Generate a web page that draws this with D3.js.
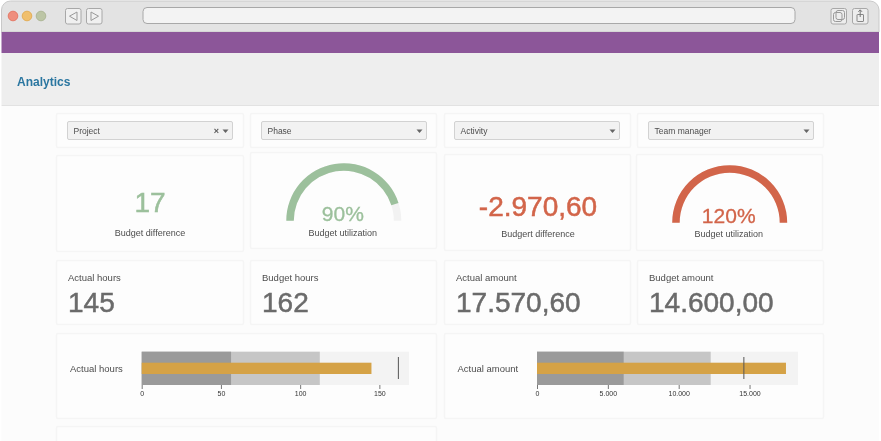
<!DOCTYPE html>
<html>
<head>
<meta charset="utf-8">
<title>Analytics</title>
<script src="https://cdn.jsdelivr.net/npm/d3@7"></script>
<style>
  html, body { margin: 0; padding: 0; background: #fff; overflow: hidden; }
  svg { display: block; font-family: "Liberation Sans", Arial, sans-serif; filter: blur(0.35px); }
</style>
</head>
<body>
<div id="chart"></div>
<script>
// values
const filterNames = ['Project', 'Phase', 'Activity', 'Team manager'];
const kpiLabels = ['Actual hours', 'Budget hours', 'Actual amount', 'Budget amount'];
const kpiValues = [145, 162, 17570.6, 14600];
const hoursRanges = [56.4, 112.4, 168.7];
const amountRanges = [6117, 12260, 18420];
const hoursTicks = [0, 50, 100, 150];
const amountTicks = [0, 5000, 10000, 15000];

const locale = d3.formatLocale({ decimal: ',', thousands: '.', grouping: [3], currency: ['', ''], minus: '-' });
const fmtInt = locale.format('d');
const fmtAmount = locale.format(',.2f');
const fmtTick = locale.format(',d');

const green = '#9cc09c', red = '#d2654a', grey = '#6b6b6b', label = '#4d4d4d';

const svg = d3.select('#chart').append('svg').attr('width', 881).attr('height', 441);

function box(g, x0, y0, x1, y1, fill, stroke, r) {
  return g.append('rect')
    .attr('x', x0).attr('y', y0)
    .attr('width', x1 - x0).attr('height', y1 - y0)
    .attr('rx', r || 0)
    .attr('fill', fill).attr('stroke', stroke || 'none');
}

function txt(g, x, y, str, size, color, anchor, weight) {
  return g.append('text')
    .attr('x', x).attr('y', y)
    .attr('font-size', size)
    .attr('fill', color)
    .attr('text-anchor', anchor || 'start')
    .attr('font-weight', weight || 400)
    .text(str);
}

// big numbers are a bit heavier than the regular face
const heavy = (sel, color) => sel.attr('stroke', color).attr('stroke-width', 0.5);

//Browser window
const win = svg.append('g');
win.append('path').attr('fill', '#e3e3e3').attr('stroke', '#c9c9c9')
  .attr('d', 'M1.5,32 V10 a9,9 0 0 1 9,-9 H870 a9,9 0 0 1 9,9 V32 Z');
[['#ef8e7d', '#e57a68', 13], ['#f0bf6c', '#e3ae57', 27], ['#bcc5a5', '#aeb796', 41]].forEach(([c, s, x]) => {
  win.append('circle').attr('cx', x).attr('cy', 16).attr('r', 4.8).attr('fill', c).attr('stroke', s);
});
box(win, 65.5, 8.5, 81, 24, '#f0f0f0', '#a8a8a8', 2);
box(win, 86.5, 8.5, 102, 24, '#f0f0f0', '#a8a8a8', 2);
win.append('path').attr('d', 'M77,12 L69.5,16.2 L77,20.5 Z').attr('fill', 'none').attr('stroke', '#999');
win.append('path').attr('d', 'M91,12 L98.5,16.2 L91,20.5 Z').attr('fill', 'none').attr('stroke', '#999');
box(win, 143, 7.5, 795, 23.5, '#f3f3f3', '#a8a8a8', 4);
box(win, 831, 8.5, 846.5, 24, '#ededed', '#a8a8a8', 2);
box(win, 852.5, 8.5, 868, 24, '#ededed', '#a8a8a8', 2);
box(win, 833.5, 12.5, 842, 21.5, 'none', '#999', 2);
box(win, 836, 10.5, 844.5, 19.5, 'none', '#999', 2);
box(win, 857, 14.5, 863.5, 21.5, 'none', '#888', 0.5);
win.append('path').attr('d', 'M860.2,10 V17 M858.4,11.8 L860.2,9.8 L862,11.8').attr('fill', 'none').attr('stroke', '#777');

//Page background and header
box(svg, 1.5, 32, 879, 53, '#8c5699');
box(svg, 1.5, 53, 879, 105, '#eeeeee');
box(svg, 1.5, 105, 879, 106, '#e2e2e2');
box(svg, 1.5, 106, 879, 441, '#fcfcfc');
txt(svg, 17, 86, 'Analytics', 12, '#2a76a0', 'start', 700);

const card = (x0, y0, x1, y1) => box(svg, x0 + 0.5, y0 + 0.5, x1 - 0.5, y1 - 0.5, '#fdfdfd', '#f5f5f5', 1.5).attr('stroke-width', 1.4);

//Filter row
const filterCards = [[56, 244], [250, 437], [444, 631], [637, 824]];
const selects = [[67.5, 232.5], [261.5, 426.5], [454.5, 619.5], [648.5, 813.5]];
filterNames.forEach((name, i) => {
  card(filterCards[i][0], 113, filterCards[i][1], 148);
  box(svg, selects[i][0], 121.5, selects[i][1], 139.5, '#f2f2f2', '#d2d2d2', 1.5);
  txt(svg, selects[i][0] + 6, 134, name, 8.5, '#4d4d4d');
  const ax = selects[i][1] - 7;
  svg.append('path').attr('d', `M${ax - 3},129.5 H${ax + 3} L${ax},133 Z`).attr('fill', '#666');
});
txt(svg, 216.5, 133.5, '×', 9, '#555', 'middle', 700);

//Number tiles
card(56, 155, 244, 252);
heavy(txt(svg, 150, 212, fmtInt(kpiValues[1] - kpiValues[0]), 28, green, 'middle'), green);
txt(svg, 150, 236, 'Budget difference', 9, label, 'middle');

card(444, 154, 631, 251);
heavy(txt(svg, 538, 216, fmtAmount(kpiValues[3] - kpiValues[2]), 28, red, 'middle'), red);
txt(svg, 538, 237, 'Budgert difference', 9, label, 'middle');

//Gauges
function gauge(cx, cy, pct, color, labelY) {
  const scale = d3.scaleLinear().domain([0, 100]).range([-Math.PI / 2, Math.PI / 2]).clamp(true);
  const arc = d3.arc().innerRadius(50).outerRadius(57.5);
  const g = svg.append('g').attr('transform', `translate(${cx},${cy})`);
  g.append('path').attr('fill', '#f2f2f2').attr('d', arc({ startAngle: scale(0), endAngle: scale(100) }));
  g.append('path').attr('fill', color).attr('d', arc({ startAngle: scale(0), endAngle: scale(pct) }));
  heavy(txt(g, -1, 0.5, pct + '%', 21, color, 'middle'), color).attr('stroke-width', 0.3);
  txt(svg, cx - 1, labelY, 'Budget utilization', 9, label, 'middle');
}
card(250, 152, 437, 249);
gauge(343.8, 220.7, Math.round(kpiValues[0] / kpiValues[1] * 100), green, 236);
card(636, 154, 823, 251);
gauge(729.7, 222.7, Math.round(kpiValues[2] / kpiValues[3] * 100), red, 237);

//KPI tiles
const kpiCards = [[56, 244], [250, 437], [444, 631], [637, 824]];
const kpiX = [68, 262, 456, 649];
kpiLabels.forEach((name, i) => {
  card(kpiCards[i][0], 260, kpiCards[i][1], 325);
  txt(svg, kpiX[i], 280.5, name, 9.5, label);
  heavy(txt(svg, kpiX[i], 311.5, i < 2 ? fmtInt(kpiValues[i]) : fmtAmount(kpiValues[i]), 28, grey), grey);
});

//Bullet charts
function bullet(x0, x1, name, labelX, ranges, actual, budget, ticks) {
  const x = d3.scaleLinear().domain([0, ranges[2]]).range([x0, x1]);
  const g = svg.append('g');
  txt(g, labelX, 372, name, 9.5, label);
  const shades = ['#9a9a9a', '#c6c6c6', '#f3f3f3'];
  [2, 1, 0].forEach(i => {
    g.append('rect')
      .attr('x', x(0)).attr('y', 351.7)
      .attr('width', x(ranges[i]) - x(0)).attr('height', 33.3)
      .attr('fill', shades[i]);
  });
  g.append('rect')
    .attr('x', x(0)).attr('y', 362.7)
    .attr('width', x(actual) - x(0)).attr('height', 11.3)
    .attr('fill', '#d5a246');
  g.append('line')
    .attr('x1', x(budget)).attr('x2', x(budget))
    .attr('y1', 357).attr('y2', 379)
    .attr('stroke', '#555').attr('stroke-width', 1);
  const axis = d3.axisBottom(x).tickValues(ticks).tickFormat(fmtTick).tickSize(4).tickPadding(2);
  const ag = g.append('g').attr('transform', 'translate(0,385)').call(axis);
  ag.select('.domain').remove();
  ag.selectAll('.tick line').attr('stroke', '#777');
  ag.selectAll('text').attr('font-size', 7).attr('fill', '#333').attr('font-family', 'inherit');
}
card(56, 333, 437, 419);
bullet(141.7, 409, 'Actual hours', 70, hoursRanges, kpiValues[0], kpiValues[1], hoursTicks);
card(444, 333, 824, 419);
bullet(537, 798, 'Actual amount', 457.5, amountRanges, kpiValues[2], kpiValues[3], amountTicks);

//Next row, cut off by the window
card(56, 426, 437, 460);
</script>
</body>
</html>
